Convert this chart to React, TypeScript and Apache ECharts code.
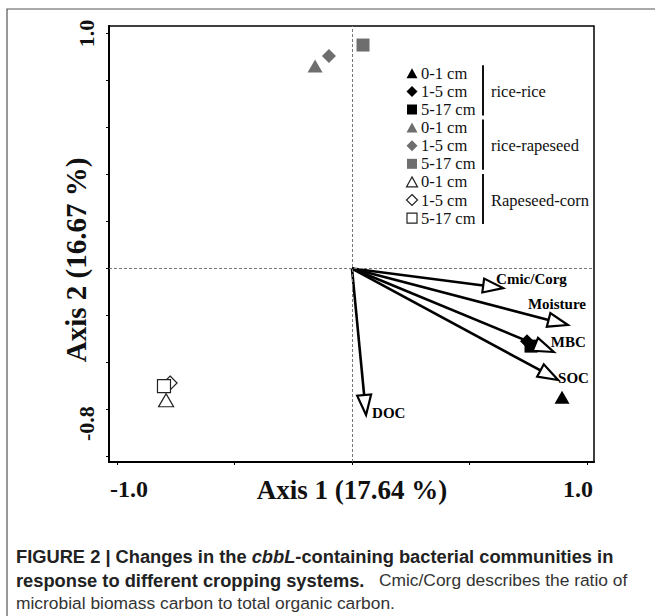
import React, { useEffect, useRef } from "react";
import * as echarts from "echarts";

// ---------- data ----------
const depthLabels = ["0-1 cm", "1-5 cm", "5-17 cm"];
const systemNames = ["rice-rice", "rice-rapeseed", "Rapeseed-corn"];

// sample scores [axis1, axis2] in order 0-1, 1-5, 5-17 cm
const riceRice = [
  [0.894, -0.547],
  [0.745, -0.309],
  [0.762, -0.33],
];
const riceRapeseed = [
  [-0.157, 0.862],
  [-0.098, 0.904],
  [0.047, 0.951],
];
const rapeseedCorn = [
  [-0.791, -0.56],
  [-0.774, -0.487],
  [-0.8, -0.5],
];

// environmental vectors
const envNames = ["Cmic/Corg", "Moisture", "MBC", "SOC", "DOC"];
const envX = [0.643, 0.919, 0.859, 0.877, 0.06];
const envY = [-0.083, -0.24, -0.355, -0.474, -0.623];

const xTicks = [-1.0, -0.5, 0, 0.5, 1.0];
const xTickLabels = [-1.0, 1.0];
const yTicks = [-0.8, -0.6, -0.4, -0.2, 0, 0.2, 0.4, 0.6, 0.8, 1.0];
const yTickLabels = [-0.8, 1.0];
const xTitle = "Axis 1 (17.64 %)";
const yTitle = "Axis 2 (16.67 %)";

const captionBold1a = "FIGURE 2 | Changes in the ";
const captionItalic = "cbbL";
const captionBold1b = "-containing bacterial communities in";
const captionBold2 = "response to different cropping systems.";
const captionReg2 = "   Cmic/Corg describes the ratio of";
const captionReg3 = "microbial biomass carbon to total organic carbon.";

// ---------- styles ----------
const SERIF = '"Liberation Serif", "Times New Roman", serif';
const SANS = '"Liberation Sans", Arial, sans-serif';
const groupFill = ["#000000", "#6e6e6e", "#ffffff"];
const groupStroke = ["#000000", "#6e6e6e", "#222222"];
const depthSymbol = ["triangle", "diamond", "rect"];
const depthSize: any[] = [[15, 13], 14, 13];
const labelOffsets = [
  [-7, -9],
  [-40, -21],
  [-3, -10],
  [0, -2],
  [6, -2],
];

function legendGraphic() {
  const children: any[] = [];
  const x0 = 412;
  const y0 = 73.3;
  const step = 18.1;
  systemNames.forEach((sys, g) => {
    depthLabels.forEach((dl, d) => {
      const row = g * 3 + d;
      const cy = y0 + row * step;
      const style = {
        fill: groupFill[g],
        stroke: groupStroke[g],
        lineWidth: g === 2 ? 1.2 : 0,
      };
      if (d === 0) {
        children.push({
          type: "polygon",
          shape: { points: [[x0, cy - 5], [x0 + 5.5, cy + 5], [x0 - 5.5, cy + 5]] },
          style,
        });
      } else if (d === 1) {
        children.push({
          type: "polygon",
          shape: { points: [[x0, cy - 5.5], [x0 + 5.5, cy], [x0, cy + 5.5], [x0 - 5.5, cy]] },
          style,
        });
      } else {
        children.push({
          type: "rect",
          shape: { x: x0 - 5, y: cy - 5, width: 10, height: 10 },
          style,
        });
      }
      children.push({
        type: "text",
        x: 421,
        y: cy,
        style: {
          text: dl,
          font: `16.5px ${SERIF}`,
          fill: "#111",
          verticalAlign: "middle",
          align: "left",
        },
      });
    });
    const top = y0 + g * 3 * step;
    const bottom = y0 + (g * 3 + 2) * step;
    children.push({
      type: "line",
      shape: { x1: 483, y1: top - 8, x2: 483, y2: bottom + 6 },
      style: { stroke: "#111", lineWidth: 2 },
    });
    children.push({
      type: "text",
      x: 491,
      y: (top + bottom) / 2,
      style: {
        text: sys,
        font: `16.5px ${SERIF}`,
        fill: "#111",
        verticalAlign: "middle",
        align: "left",
      },
    });
  });
  return children;
}

export default function App() {
  const ref = useRef<HTMLDivElement>(null);

  useEffect(() => {
    if (!ref.current) return;
    const chart = echarts.init(ref.current, null, { renderer: "svg" });

    const groups = [riceRice, riceRapeseed, rapeseedCorn];
    const scatterSeries = groups.map((pts, g) => ({
      type: "scatter",
      name: systemNames[g],
      z: 3,
      data: pts.map((p, d) => ({
        value: p,
        name: depthLabels[d],
        symbol: depthSymbol[d],
        symbolSize: depthSize[d],
      })),
      itemStyle: {
        color: groupFill[g],
        borderColor: groupStroke[g],
        borderWidth: g === 2 ? 1.2 : 0,
        opacity: 1,
      },
      ...(g === 0
        ? {
            markLine: {
              silent: true,
              symbol: "none",
              label: { show: false },
              lineStyle: { type: [3, 2], color: "#777", width: 1 },
              data: [{ xAxis: 0 }, { yAxis: 0 }],
            },
          }
        : {}),
    }));

    const arrowSeries = {
      type: "custom",
      z: 4,
      data: envNames.map((n, i) => [envX[i], envY[i]]),
      renderItem: (params: any, api: any) => {
        const i = params.dataIndex;
        const o = api.coord([0, 0]);
        const t = api.coord([api.value(0), api.value(1)]);
        const dx = t[0] - o[0];
        const dy = t[1] - o[1];
        const len = Math.hypot(dx, dy);
        const ux = dx / len;
        const uy = dy / len;
        const headLen = 20;
        const headW = 7;
        const bx = t[0] - ux * headLen;
        const by = t[1] - uy * headLen;
        const px = -uy;
        const py = ux;
        return {
          type: "group",
          children: [
            {
              type: "line",
              shape: { x1: o[0], y1: o[1], x2: bx, y2: by },
              style: { stroke: "#000", lineWidth: 2.6 },
            },
            {
              type: "polygon",
              shape: {
                points: [
                  [t[0], t[1]],
                  [bx + px * headW, by + py * headW],
                  [bx - px * headW, by - py * headW],
                ],
              },
              style: { fill: "#fff", stroke: "#000", lineWidth: 2.2 },
            },
            {
              type: "text",
              x: t[0] + labelOffsets[i][0],
              y: t[1] + labelOffsets[i][1],
              style: {
                text: envNames[i],
                font: `bold 15px ${SERIF}`,
                fill: "#000",
                align: "left",
                verticalAlign: "middle",
              },
            },
          ],
        };
      },
    };

    const tickFont = (size: number, pad?: number[]) => ({
      fontSize: size,
      fontWeight: "bold",
      fontFamily: SERIF,
      color: "#111",
      ...(pad ? { padding: pad } : {}),
    });

    chart.setOption({
      animation: false,
      backgroundColor: "#ffffff",
      grid: {
        left: 109,
        top: 26,
        width: 485,
        height: 436,
        show: true,
        borderColor: "#000",
        borderWidth: 1.5,
        containLabel: false,
      },
      xAxis: {
        type: "value",
        min: -1.034,
        max: 1.03,
        splitLine: { show: false },
        axisLine: { show: true, onZero: false, lineStyle: { color: "#000", width: 2 } },
        axisTick: {
          show: true,
          customValues: xTicks,
          length: 3,
          lineStyle: { color: "#000", width: 1 },
        },
        axisLabel: {
          show: true,
          customValues: xTickLabels,
          margin: 15,
          formatter: (v: number) =>
            v < 0 ? `{a|${v.toFixed(1)}}` : `{b|${v.toFixed(1)}}`,
          rich: {
            a: tickFont(24, [0, 0, 0, 24]),
            b: tickFont(24, [0, 18, 0, 0]),
          },
        },
      },
      yAxis: {
        type: "value",
        min: -0.823,
        max: 1.032,
        splitLine: { show: false },
        axisLine: { show: true, onZero: false, lineStyle: { color: "#000", width: 2 } },
        axisTick: {
          show: true,
          customValues: yTicks,
          length: 3,
          lineStyle: { color: "#000", width: 1 },
        },
        axisLabel: {
          show: true,
          customValues: yTickLabels,
          rotate: 90,
          margin: 12,
          formatter: (v: number) =>
            v < 0 ? `{a|${v.toFixed(1)}}` : `{b|${v.toFixed(1)}}`,
          rich: {
            a: tickFont(22, [0, 0, 0, 66]),
            b: tickFont(22),
          },
        },
      },
      series: [...scatterSeries, arrowSeries],
      graphic: [
        {
          type: "rect",
          silent: true,
          shape: { x: 7, y: 9, width: 700, height: 700 },
          style: { fill: "none", stroke: "#555", lineWidth: 1.2 },
          z: -1,
        },
        ...legendGraphic(),
        {
          type: "text",
          x: 352,
          y: 490,
          style: {
            text: xTitle,
            font: `bold 27px ${SERIF}`,
            fill: "#111",
            align: "center",
            verticalAlign: "middle",
          },
        },
        {
          type: "text",
          x: 76,
          y: 260,
          rotation: Math.PI / 2,
          style: {
            text: yTitle,
            font: `bold 29px ${SERIF}`,
            fill: "#111",
            align: "center",
            verticalAlign: "middle",
          },
        },
        {
          type: "text",
          x: 16,
          y: 556,
          style: {
            text: `{b|${captionBold1a}}{bi|${captionItalic}}{b|${captionBold1b}}`,
            verticalAlign: "middle",
            align: "left",
            rich: {
              b: { font: `bold 18.3px ${SANS}`, fill: "#222" },
              bi: { font: `italic bold 18.3px ${SANS}`, fill: "#222" },
            },
          },
        },
        {
          type: "text",
          x: 16,
          y: 580,
          style: {
            text: `{b|${captionBold2}}{r|${captionReg2}}`,
            verticalAlign: "middle",
            align: "left",
            rich: {
              b: { font: `bold 18.3px ${SANS}`, fill: "#222" },
              r: { font: `17.4px ${SANS}`, fill: "#333" },
            },
          },
        },
        {
          type: "text",
          x: 16,
          y: 603,
          style: {
            text: `{r|${captionReg3}}`,
            verticalAlign: "middle",
            align: "left",
            rich: {
              r: { font: `17.4px ${SANS}`, fill: "#333" },
            },
          },
        },
      ],
    });

    return () => chart.dispose();
  }, []);

  return (
    <div
      ref={ref}
      style={{ position: "absolute", left: 0, top: 0, width: 655, height: 616 }}
    />
  );
}
